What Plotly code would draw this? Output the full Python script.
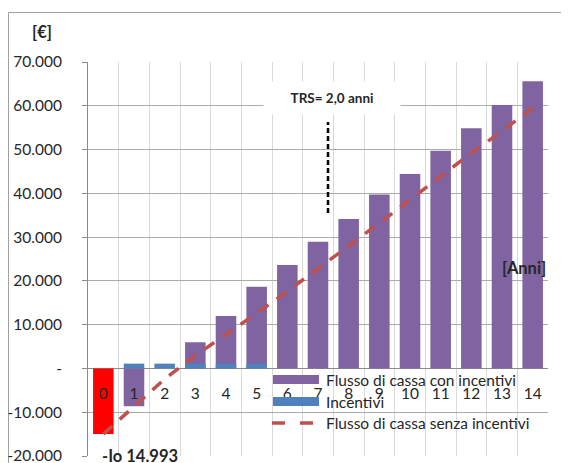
import plotly.graph_objects as go

# ---- data ----
years = [str(i) for i in range(15)]
flusso_con_incentivi = [-14993, -8636, 0, 5980, 12000, 18640, 23640, 28940, 34150, 39750, 44400, 49700, 54840, 60160, 65600]
incentivi = [None, 1100, 1100, 1100, 1100, 1100, None, None, None, None, None, None, None, None, None]
flusso_senza_incentivi = [-14993, -8750, -2400, 2950, 7700, 12600, 17600, 22900, 28000, 33200, 38600, 44000, 49200, 54200, 59500]
bar_colors = ["#FF0000"] + ["#8064A2"] * 14
y_tickvals = [-20000, -10000, 0, 10000, 20000, 30000, 40000, 50000, 60000, 70000]
y_ticktext = ["-20.000", "-10.000", "-", "10.000", "20.000", "30.000", "40.000", "50.000", "60.000", "70.000"]
legend_labels = ["Flusso di cassa con incentivi", "Incentivi", "Flusso di cassa senza incentivi"]

# ---- layout geometry (pixels in the 569x463 window; page body adds an 8px offset) ----
OFF = 8
W_IMG, H_IMG = 569 - OFF, 463 - OFF
PL, PR, PT, PB = 88, 548, 62, 456
PW, PH = PR - PL, PB - PT

def fx(p):
    return (p - PL) / PW

def fy(q):
    return (PB - q) / PH

FONT = "Lato"
TXT = "#262626"
PURPLE = "#8064A2"
BLUE = "#4F81BD"
RED = "#C0504D"

fig = go.Figure()
fig.add_trace(go.Bar(x=years, y=flusso_con_incentivi, name=legend_labels[0],
                     marker=dict(color=bar_colors, line=dict(width=0)), width=0.67))
fig.add_trace(go.Bar(x=years, y=incentivi, name=legend_labels[1],
                     marker=dict(color=BLUE, line=dict(width=0)), width=0.67))
fig.add_trace(go.Scatter(x=years, y=flusso_senza_incentivi, name=legend_labels[2], mode="lines",
                         line=dict(color=RED, width=3.5, dash="12px,10px")))

shapes = []
# outer chart border
shapes.append(dict(type="rect", xref="paper", yref="paper", x0=fx(8.5), x1=fx(590), y0=fy(490), y1=fy(12.5),
                   line=dict(color="#A0A0A0", width=1), fillcolor="rgba(0,0,0,0)", layer="below"))
# TRS vertical dashed marker
shapes.append(dict(type="line", xref="paper", yref="paper", x0=fx(328), x1=fx(328), y0=fy(213), y1=fy(122),
                   line=dict(color="black", width=2.5, dash="5px,3px")))
# custom legend swatches
shapes.append(dict(type="rect", xref="paper", yref="paper", x0=fx(273), x1=fx(319), y0=fy(384), y1=fy(375),
                   line=dict(width=0), fillcolor=PURPLE))
shapes.append(dict(type="rect", xref="paper", yref="paper", x0=fx(273), x1=fx(319), y0=fy(406), y1=fy(397),
                   line=dict(width=0), fillcolor=BLUE))
shapes.append(dict(type="line", xref="paper", yref="paper", x0=fx(272), x1=fx(316), y0=fy(423), y1=fy(423),
                   line=dict(color=RED, width=3.5, dash="13px,15px")))

def ann(text, px, py, size, xanchor="center", bold=True, **kw):
    return dict(text=f"<b>{text}</b>" if bold else text, x=fx(px), y=fy(py), xref="paper", yref="paper",
                showarrow=False, xanchor=xanchor, yanchor="middle",
                font=dict(size=size, family=FONT, color=TXT), **kw)

annotations = [
    ann("[€]", 42, 32, 16.5),
    ann("[Anni]", 524, 268, 16.5),
    ann("-Io 14.993", 140, 456, 16.5),
    ann("TRS= 2,0 anni", 332, 98, 13.5, width=134, height=30, bgcolor="white"),
]
for lab, yy in zip(legend_labels, [380, 402, 423]):
    annotations.append(ann(lab, 324, yy, 15.5, xanchor="left", bold=False))

fig.update_layout(
    width=W_IMG, height=H_IMG, autosize=False,
    margin=dict(l=PL - OFF, r=W_IMG - (PR - OFF), t=PT - OFF, b=H_IMG - (PB - OFF), pad=0),
    paper_bgcolor="white", plot_bgcolor="white",
    barmode="overlay", showlegend=False,
    font=dict(family=FONT, size=15.5, color=TXT),
    shapes=shapes, annotations=annotations,
    xaxis=dict(type="category", categoryorder="array", categoryarray=years,
               tickson="boundaries", showgrid=True, gridcolor="#D9D9D9", gridwidth=1,
               ticks="", showline=False, zeroline=False, automargin=False,
               anchor="free", position=20000 / 90000, ticklabelstandoff=14,
               tickfont=dict(size=15.5, family=FONT, color=TXT)),
    yaxis=dict(range=[-20000, 70000], tickvals=y_tickvals, ticktext=y_ticktext,
               showgrid=True, gridcolor="#ABABAB", gridwidth=1,
               showline=True, linecolor="#8C8C8C", linewidth=1,
               ticks="outside", ticklen=5, tickcolor="#8C8C8C",
               zeroline=True, zerolinecolor="#8C8C8C", zerolinewidth=1,
               ticklabeloverflow="allow", automargin=False,
               ticklabelstandoff=17, tickfont=dict(size=15.5, family=FONT, color=TXT)),
)

fig.write_html("out.html")
